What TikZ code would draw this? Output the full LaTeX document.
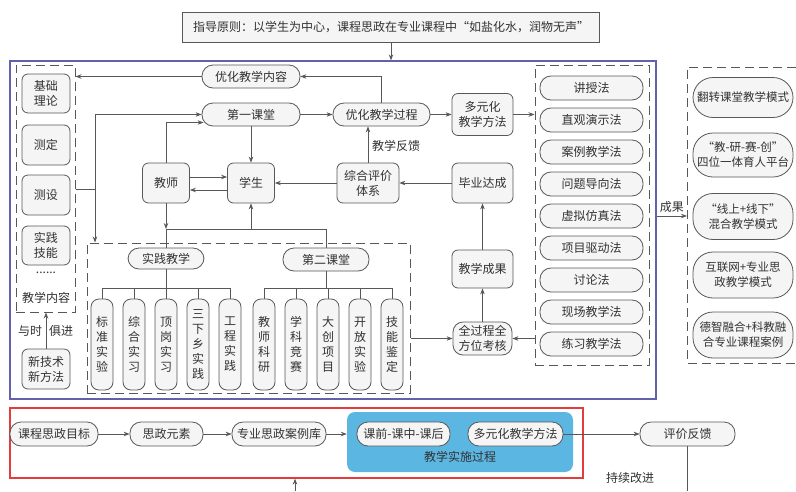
\documentclass[tikz,border=0pt]{standalone}
\usepackage{fontspec}
\setmainfont{Noto Sans CJK SC}
\usetikzlibrary{arrows.meta}
\definecolor{lcol}{RGB}{88,88,88}
\definecolor{tx}{RGB}{50,50,50}
\definecolor{nf}{RGB}{245,245,245}
\definecolor{bluebd}{RGB}{98,98,172}
\definecolor{redbd}{RGB}{228,60,60}
\definecolor{impl}{RGB}{92,182,226}
\begin{document}
\begin{tikzpicture}[x=1pt,y=-1pt,
  every node/.style={font=\fontsize{12}{15}\selectfont, text=tx, inner sep=0pt, align=center},
  base/.style={draw=lcol, line width=0.8pt, fill=nf},
  pill/.style={base, rounded corners=11pt},
  rbox/.style={base, rounded corners=6pt},
  bigpill/.style={base, rounded corners=20pt, minimum width=100pt, font=\fontsize{11.5}{15}\selectfont},
  tallbox/.style={base, rounded corners=8pt, minimum width=22pt, minimum height=91pt},
  dbox/.style={draw=lcol, line width=1pt, dash pattern=on 9pt off 5pt},
  arr/.style={draw=lcol, line width=0.8pt, -{Stealth[length=6pt,width=4.5pt]}},
  cn/.style={draw=lcol, line width=0.8pt},
]
\useasboundingbox[fill=white] (0,0) rectangle (796,491);

% frames
\node[draw=lcol, line width=0.8pt, fill=nf, minimum width=417pt, minimum height=30pt] (top) at (391,27) {指导原则：以学生为中心，课程思政在专业课程中“如盐化水，润物无声”};
\node[draw=bluebd, line width=1.2pt, minimum width=646pt, minimum height=338pt] (blue) at (333,230) {};
\node[draw=redbd, line width=1.2pt, minimum width=573pt, minimum height=70pt] (red) at (296.5,443) {};

% left dashed column
\node[dbox, minimum width=59pt, minimum height=247pt] (ld) at (45.5,188.5) {};
\node[rbox, minimum width=48pt, minimum height=39pt] (jc) at (46,93.5) {基础\\理论};
\node[rbox, minimum width=48pt, minimum height=40pt] (cd) at (46,145) {测定};
\node[rbox, minimum width=48pt, minimum height=40pt] (cs) at (46,195) {测设};
\node[rbox, minimum width=48pt, minimum height=39pt] (sj) at (46,245.5) {实践\\技能};
\node (dots) at (46,273) {......};
\node (jxnr) at (46,298) {教学内容};
\node[rbox, minimum width=48pt, minimum height=40pt] (xjs) at (46,369) {新技术\\新方法};
\node (ys) at (30,331) {与时};
\node (jj) at (61,331) {俱进};

% middle nodes
\node[pill, minimum width=98pt, minimum height=23pt] (yh) at (251,76.5) {优化教学内容};
\node[pill, minimum width=98pt, minimum height=23pt] (dy) at (251,114.5) {第一课堂};
\node[pill, minimum width=97pt, minimum height=23pt] (yhgc) at (381.5,114.5) {优化教学过程};
\node[rbox, minimum width=61pt, minimum height=42pt] (dyh) at (482.5,114.5) {多元化\\教学方法};
\node[rbox, minimum width=47pt, minimum height=40pt] (js) at (166,183) {教师};
\node[rbox, minimum width=47pt, minimum height=40pt] (xs) at (251,183) {学生};
\node[rbox, minimum width=62pt, minimum height=40pt] (zh) at (368,183) {综合评价\\体系};
\node[rbox, minimum width=61pt, minimum height=40pt] (by) at (482.5,183) {毕业达成};
\node[rbox, minimum width=61pt, minimum height=38pt] (cg) at (482.5,269) {教学成果};
\node[base, rounded corners=10pt, minimum width=59pt, minimum height=33pt] (qgc) at (482.5,338.5) {全过程全\\方位考核};
\node (fk) at (396,146) {教学反馈};

% practice block
\node[dbox, minimum width=323pt, minimum height=150pt] (pd) at (248.5,318) {};
\node[pill, minimum width=76pt, minimum height=21pt] (sjjx) at (166,258.5) {实践教学};
\node[pill, minimum width=86pt, minimum height=23pt] (dekt) at (326,259.5) {第二课堂};
\node[tallbox] (t1) at (102,344.5) {标\\准\\实\\验};
\node[tallbox] (t2) at (134,344.5) {综\\合\\实\\习};
\node[tallbox] (t3) at (166,344.5) {顶\\岗\\实\\习};
\node[tallbox] (t4) at (198,344.5) {三\\下\\乡\\实\\践};
\node[tallbox] (t5) at (230,344.5) {工\\程\\实\\践};
\node[tallbox] (s1) at (264,344.5) {教\\师\\科\\研};
\node[tallbox] (s2) at (296,344.5) {学\\科\\竞\\赛};
\node[tallbox] (s3) at (328,344.5) {大\\创\\项\\目};
\node[tallbox] (s4) at (360,344.5) {开\\放\\实\\验};
\node[tallbox] (s5) at (392,344.5) {技\\能\\鉴\\定};

% methods
\node[dbox, minimum width=114pt, minimum height=300pt] (md) at (592,215) {};
\foreach \t [count=\i] in {讲授法,直观演示法,案例教学法,问题导向法,虚拟仿真法,项目驱动法,讨论法,现场教学法,练习教学法}
  \node[pill, minimum width=103pt, minimum height=24pt] (m\i) at (591.5,56+32*\i) {\t};

% outcomes
\draw[dbox] (796,67) -- (687,67) -- (687,363) -- (796,363);
\coordinate (oc) at (687,216);
\node[bigpill, minimum height=40pt] (o1) at (743,97.5) {翻转课堂教学模式};
\node[bigpill, minimum height=44pt] (o2) at (743,155) {“教-研-赛-创”\\四位一体育人平台};
\node[bigpill, minimum height=46pt] (o3) at (743,216.5) {“线上+线下”\\混合教学模式};
\node[bigpill, minimum height=46pt] (o4) at (743,275) {互联网+专业思\\政教学模式};
\node[bigpill, minimum height=46pt] (o5) at (743,335) {德智融合+科教融\\合专业课程案例};

% bottom row
\node[fill=impl, rounded corners=8pt, minimum width=226pt, minimum height=60pt] (impl) at (460,442) {};
\node[pill, minimum width=88pt, minimum height=24pt] (b1) at (54,434) {课程思政目标};
\node[pill, minimum width=73pt, minimum height=24pt] (b2) at (166.5,434) {思政元素};
\node[pill, minimum width=94pt, minimum height=24pt] (b3) at (279,434) {专业思政案例库};
\node[pill, minimum width=93pt, minimum height=24pt] (b4) at (403.5,434) {课前-课中-课后};
\node[pill, minimum width=95pt, minimum height=24pt] (b5) at (515.5,434) {多元化教学方法};
\node (implt) at (460,457) {教学实施过程};
\node[pill, minimum width=95pt, minimum height=24pt] (b6) at (687.5,434) {评价反馈};
\node (cx) at (630,478) {持续改进};
\coordinate (bot1) at (687.5,491);
\coordinate (bot2) at (295,491);

% connectors top area
\draw[arr] (top.south) -- (top.south |- blue.north);
\draw[arr] (yhgc.north) |- (yh.east);
\draw[arr] (yh.west) -- (yh.west -| ld.east);
\coordinate (j1) at (95,189);
\draw[cn] (ld.east |- j1) -- (j1);
\draw[arr] (j1) -- (j1 |- dy.west) -- (dy.west);
\draw[arr] (j1) -- (j1 |- pd.north);
\draw[arr] (js.north) |- ([xshift=2pt,yshift=-8pt]dy.west);
\draw[arr] ([yshift=6pt]js.east) -- ([yshift=6pt]js.east -| xs.west);
\draw[arr] ([yshift=-7pt]xs.west) -- ([yshift=-7pt]xs.west -| js.east);
\draw[arr] (dy.south) -- (dy.south |- xs.north);
\coordinate (h1) at (166,229);
\coordinate (h2) at (326,229);
\draw[arr] (js.south) -- (h1);
\draw[cn] (h1) -- (sjjx.north);
\draw[cn] (h1) -- (h2) -- (dekt.north);
\draw[arr] (h1 -| xs.south) -- (xs.south);
\draw[arr] (zh.west) -- (zh.west -| xs.east);
\draw[arr] (zh.north) -- (zh.north |- yhgc.south);
\draw[arr] (by.west) -- (zh.east);
\draw[arr] (cg.north) -- (by.south);
\draw[arr] (qgc.north) -- (cg.south);
\draw[arr] (pd.east |- qgc.west) -- (qgc.west);
\draw[arr] (md.west |- qgc.east) -- (qgc.east);
\draw[arr] (dy.east) -- (yhgc.west);
\draw[arr] (yhgc.east) -- (yhgc.east -| dyh.west);
\draw[arr] (dyh.east) -- (dyh.east -| md.west);
\draw[arr] (blue.east |- oc) -- (oc) node[midway, above=3pt] {成果};
\draw[arr] (xjs.north) -- (xjs.north |- ld.south);

% branches
\coordinate (pb) at (166,288);
\coordinate (sb) at (326,288);
\draw[cn] (sjjx.south) -- (pb);
\draw[cn] (t1.north) |- (t5.north |- pb) -- (t5.north);
\foreach \n in {t2,t3,t4} \draw[cn] (\n.north) -- (\n.north |- pb);
\draw[cn] (dekt.south) -- (sb);
\draw[cn] (s1.north) |- (s5.north |- sb) -- (s5.north);
\foreach \n in {s2,s3,s4} \draw[cn] (\n.north) -- (\n.north |- sb);

% bottom connectors
\draw[arr] (b1) -- (b2);
\draw[arr] (b2) -- (b3);
\draw[arr] (b3.east) -- (impl.west |- b3.east);
\draw[arr] (b5.east) -- (b6.west);
\draw[cn] (b6.south) -- (bot1);
\draw[arr] (bot2) -- (bot2 |- red.south);
\end{tikzpicture}
\end{document}
